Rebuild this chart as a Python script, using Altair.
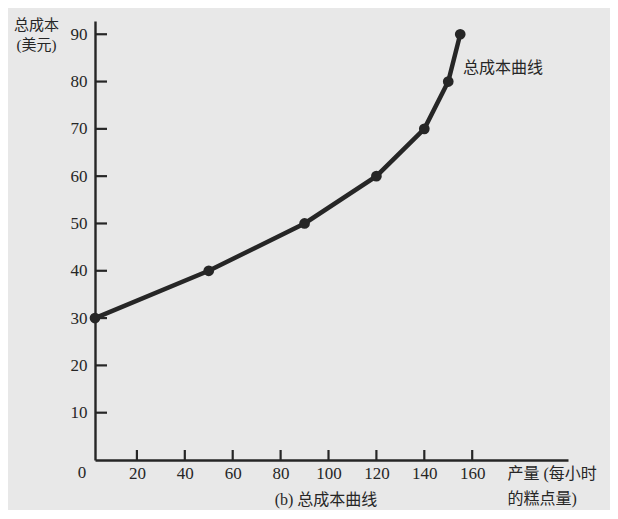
import altair as alt
import pandas as pd

# Data
output_qty = [0, 50, 90, 120, 140, 150, 155]
total_cost = [30, 40, 50, 60, 70, 80, 90]
x_ticks = [20, 40, 60, 80, 100, 120, 140, 160]
y_ticks = [10, 20, 30, 40, 50, 60, 70, 80, 90]

INK = "#262626"
SERIF = "serif"
CJK = "Noto Sans CJK SC"
MIX = "Liberation Serif, Noto Sans CJK SC, serif"

W, H = 473, 439

df = pd.DataFrame({"q": output_qty, "tc": total_cost})
xt = pd.DataFrame({"v": x_ticks})
yt = pd.DataFrame({"v": y_ticks})

xscale = alt.Scale(domain=[2.5, 200], clamp=True, nice=False, zero=False)
yscale = alt.Scale(domain=[0, 92.8], nice=False, zero=False)

x_enc = alt.X("q:Q", scale=xscale, axis=alt.Axis(
    values=x_ticks, ticks=False, grid=False, labelPadding=5,
    labelFont=SERIF, labelFontSize=17, labelColor=INK,
    domainColor=INK, domainWidth=2.4,
    title=["产量 (每小时", "的糕点量)"], titleFont=MIX, titleFontSize=16,
    titleFontWeight="normal", titleColor=INK, titleAngle=0,
    titleAlign="left", titleBaseline="top", titleX=412, titleY=5,
    titleLineHeight=25))
y_enc = alt.Y("tc:Q", scale=yscale, axis=alt.Axis(
    values=y_ticks, ticks=False, grid=False, labelPadding=8,
    labelFont=SERIF, labelFontSize=17, labelColor=INK,
    domainColor=INK, domainWidth=2.4,
    title=["总成本", "(美元)"], titleFont=MIX, titleFontSize=15,
    titleFontWeight="normal", titleColor=INK, titleAngle=0,
    titleAlign="center", titleBaseline="top", titleX=-59, titleY=-4,
    titleLineHeight=20))

line = alt.Chart(df).mark_line(color=INK, strokeWidth=4.5).encode(x=x_enc, y=y_enc)
pts = alt.Chart(df).mark_point(filled=True, color=INK, size=115, opacity=1).encode(
    x=alt.X("q:Q", scale=xscale), y=alt.Y("tc:Q", scale=yscale))

xtick_marks = alt.Chart(xt).mark_rule(color=INK, strokeWidth=2.2).encode(
    x=alt.X("v:Q", scale=xscale), y=alt.value(H), y2=alt.value(H - 10))
ytick_marks = alt.Chart(yt).mark_rule(color=INK, strokeWidth=2.2).encode(
    y=alt.Y("v:Q", scale=yscale), x=alt.value(0), x2=alt.value(12))

zero_lbl = alt.Chart(pd.DataFrame({"t": ["0"]})).mark_text(
    font=SERIF, fontSize=17, color=INK, align="center", baseline="top").encode(
    text="t:N", x=alt.value(-13), y=alt.value(H + 5))

curve_lbl = alt.Chart(pd.DataFrame({"t": ["总成本曲线"]})).mark_text(
    font=CJK, fontSize=16, color=INK, align="left", baseline="middle").encode(
    text="t:N", x=alt.value(368), y=alt.value(47))

caption = alt.Chart(pd.DataFrame({"t": ["(b) 总成本曲线"]})).mark_text(
    font=MIX, fontSize=16, color=INK, align="center", baseline="middle").encode(
    text="t:N", x=alt.value(231), y=alt.value(H + 40))

chart = alt.layer(line, pts, xtick_marks, ytick_marks, zero_lbl, curve_lbl, caption).properties(
    width=W, height=H,
    autosize=alt.AutoSizeParams(type="none"),
    padding={"left": 87, "top": 13, "right": 42, "bottom": 50},
    background="#e8e8e8",
).configure_view(stroke=None)

chart.save("out.html", embed_options={"renderer": "svg", "actions": False})
